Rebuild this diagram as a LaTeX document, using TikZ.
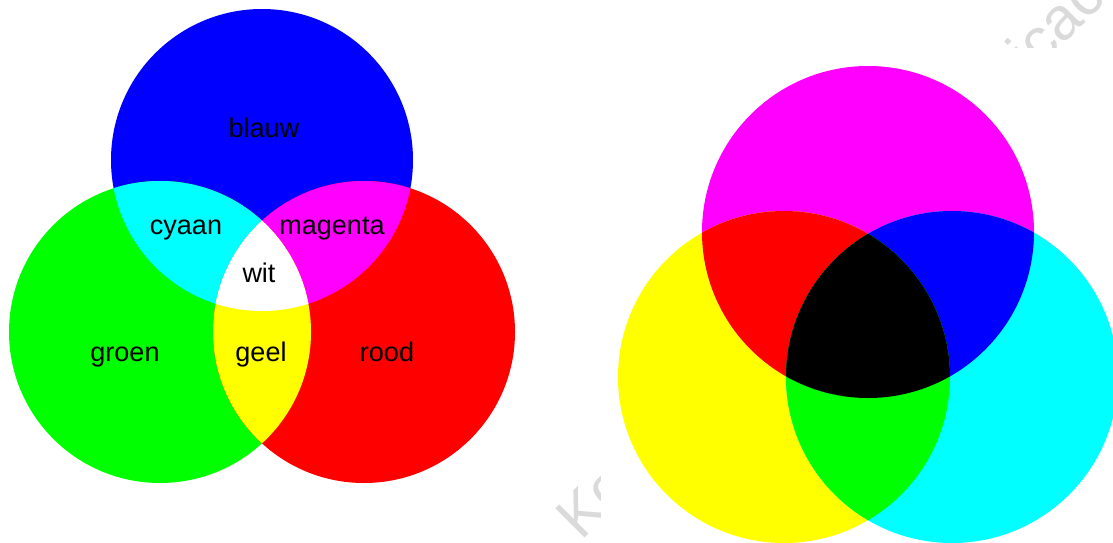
\documentclass[tikz,border=0pt]{standalone}
\usepackage{fontspec}
\setmainfont{Liberation Sans}
\definecolor{addred}{RGB}{255, 0, 0}
\definecolor{addgreen}{RGB}{0, 255, 0}
\definecolor{addblue}{RGB}{0, 0, 255}
\definecolor{subcyan}{RGB}{0, 255, 255}
\definecolor{submagenta}{RGB}{255, 0, 255}
\definecolor{subyellow}{RGB}{255, 255, 0}
\definecolor{wmgray}{RGB}{218, 218, 218}

\begin{document}
\begin{tikzpicture}[x=1pt, y=-1pt,
        lbl/.style={font=\fontsize{27}{32}\selectfont, anchor=base,
                    text=black, inner sep=0pt},
        wmark/.style={font=\fontsize{60}{70}\selectfont, text=wmgray,
                      anchor=base west, rotate=45, inner sep=0pt}
      ]
        \useasboundingbox (0,0) rectangle (1113,543);

        % watermark, only the bits outside the right picture show
        \begin{scope}
          \clip (0,0) -- (1113,0) -- (1113,48) -- (600,48) -- (600,543)
                -- (0,543) -- cycle;
          \node[wmark] (wmlow) at (581,542) {Ko};
          \node[wmark] (wmhigh) at (1032,76) {icac};
        \end{scope}

        % additive mixing (left)
        \coordinate (lb) at (262,160);
        \coordinate (lg) at (160,332);
        \coordinate (lr) at (364,332);
        \fill[addblue] (lb) circle[radius=151pt];
        \fill[addgreen] (lg) circle[radius=151pt];
        \fill[addred] (lr) circle[radius=151pt];
        \begin{scope}
          \clip (lb) circle[radius=151pt];
          \fill[subcyan] (lg) circle[radius=151pt];
          \fill[submagenta] (lr) circle[radius=151pt];
        \end{scope}
        \begin{scope}
          \clip (lg) circle[radius=151pt];
          \fill[subyellow] (lr) circle[radius=151pt];
        \end{scope}
        \begin{scope}
          \clip (lb) circle[radius=151pt];
          \clip (lg) circle[radius=151pt];
          \fill[white] (lr) circle[radius=151pt];
        \end{scope}

        \node[lbl] (blauw) at (264,137) {blauw};
        \node[lbl] (cyaan) at (186,234) {cyaan};
        \node[lbl] (magenta) at (332,234) {magenta};
        \node[lbl] (wit) at (259,282) {wit};
        \node[lbl] (groen) at (125,361) {groen};
        \node[lbl] (geel) at (261,361) {geel};
        \node[lbl] (rood) at (387,361) {rood};

        % subtractive mixing (right)
        \coordinate (rm) at (868,232);
        \coordinate (ry) at (784,377);
        \coordinate (rc) at (952,377);
        \fill[submagenta] (rm) circle[radius=166pt];
        \fill[subyellow] (ry) circle[radius=166pt];
        \fill[subcyan] (rc) circle[radius=166pt];
        \begin{scope}
          \clip (rm) circle[radius=166pt];
          \fill[addred] (ry) circle[radius=166pt];
          \fill[addblue] (rc) circle[radius=166pt];
        \end{scope}
        \begin{scope}
          \clip (ry) circle[radius=166pt];
          \fill[addgreen] (rc) circle[radius=166pt];
        \end{scope}
        \begin{scope}
          \clip (rm) circle[radius=166pt];
          \clip (ry) circle[radius=166pt];
          \fill[black] (rc) circle[radius=166pt];
        \end{scope}
      \end{tikzpicture}
\end{document}
